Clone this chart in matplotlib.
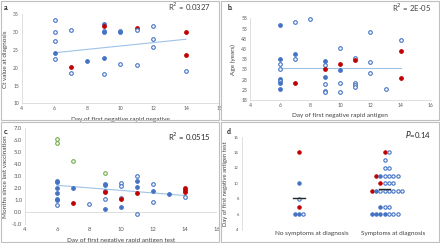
import numpy as np
import matplotlib
matplotlib.use("Agg")
import matplotlib.pyplot as plt
from matplotlib.patches import Rectangle

plt.rcParams['font.family'] = ['Lato', 'DejaVu Sans']

# colours
BLUE = '#4472C4'
RED = '#C00000'
GREEN = '#70AD47'
TREND = '#9DC3E6'
AXIS = '#D9D9D9'
TICK = '#595959'

# ---- panel a : Ct value vs day of first negative test
a_x = [6, 6, 6, 6, 6, 7, 7, 7, 8, 9, 9, 9, 9, 9, 9, 10, 10, 10, 11, 11, 11, 12, 12, 12, 14, 14, 14]
a_y = [33.5, 29.9, 27.5, 24.2, 22.5, 30.5, 20.2, 18.6, 21.9, 32.2, 31.8, 30.3, 29.9, 22.6, 18.2,
       30.4, 29.9, 20.9, 31.1, 30.5, 20.7, 31.6, 28.0, 25.7, 30.1, 23.6, 19.1]
a_k = ['o', 'o', 'o', 'f', 'o', 'o', 'r', 'o', 'f', 'f', 'r', 'o', 'f', 'f', 'o',
       'o', 'f', 'o', 'r', 'o', 'o', 'o', 'o', 'o', 'r', 'r', 'o']
a_trend_x = [6, 14]
a_trend_y = [24.2, 28.0]

# ---- panel b : age
b_x = [6, 6, 6, 6, 6, 6, 6, 6, 7, 7, 7, 7, 8, 9, 9, 9, 9, 9, 9, 9,
       10, 10, 10, 10, 10, 11, 11, 11, 11, 11, 12, 12, 12, 13, 14, 14, 14]
b_y = [54.6, 37.9, 35.5, 33.0, 28.3, 27.3, 26.2, 23.6, 56.4, 40.4, 38.3, 26.2, 57.5,
       37.3, 35.0, 33.2, 29.4, 25.7, 22.6, 21.9, 43.7, 35.8, 32.9, 26.2, 22.1,
       38.4, 37.4, 26.2, 25.4, 24.2, 51.2, 36.8, 31.1, 23.4, 47.6, 42.0, 28.6]
b_k = ['f', 'f', 'o', 'o', 'f', 'o', 'f', 'f', 'o', 'f', 'o', 'r', 'o',
       'f', 'o', 'r', 'f', 'o', 'o', 'o', 'o', 'r', 'f', 'o', 'o',
       'o', 'r', 'o', 'o', 'o', 'o', 'o', 'o', 'o', 'o', 'r', 'r']
b_trend_x = [6, 14]
b_trend_y = [33.5, 33.5]

# ---- panel c : months since last vaccination
c_x = [6, 6, 6, 6, 6, 6, 6, 6, 6, 7, 7, 7, 8, 9, 9, 9, 9, 9, 9, 9,
       10, 10, 10, 10, 10, 11, 11, 11, 11, 11, 12, 12, 12, 13, 14, 14, 14, 14]
c_y = [6.1, 5.8, 2.6, 2.5, 2.0, 1.65, 1.1, 1.0, 0.65, 4.25, 2.0, 0.75, 0.7,
       3.3, 2.4, 2.3, 1.8, 1.7, 1.1, 0.3, 2.45, 2.2, 1.2, 1.15, 0.45,
       3.05, 2.6, 2.15, 1.65, -0.1, 2.35, 1.8, 0.85, 1.55, 2.0, 1.85, 1.7, 1.3]
c_k = ['g', 'g', 'f', 'f', 'f', 'f', 'f', 'f', 'o', 'g', 'f', 'r', 'o',
       'g', 'f', 'f', 'o', 'r', 'o', 'f', 'o', 'o', 'o', 'r', 'f',
       'o', 'f', 'f', 'r', 'o', 'o', 'f', 'o', 'f', 'r', 'r', 'r', 'o']
c_trend_x = [6, 14]
c_trend_y = [2.25, 1.4]

# ---- panel d : day of first negative test by symptoms
d_groups = ['No symptoms at diagnosis', 'Symptoms at diagnosis']
d_no_y = [14, 10, 8, 7, 6, 6, 6]
d_no_k = ['r', 'f', 'o', 'r', 'f', 'f', 'o']
d_sym_y = [14, 14, 13, 12, 12,
           11, 11, 11, 11, 11, 11,
           10, 10, 10, 10,
           9, 9, 9, 9, 9, 9, 9, 9,
           7, 7, 7,
           6, 6, 6, 6, 6, 6, 6]
d_sym_k = ['r', 'o', 'o', 'o', 'o',
           'r', 'f', 'o', 'o', 'o', 'o',
           'r', 'o', 'o', 'o',
           'r', 'f', 'o', 'o', 'o', 'o', 'o', 'o',
           'f', 'o', 'o',
           'f', 'f', 'f', 'f', 'o', 'o', 'o']

STYLE = {
    'o': dict(mfc='white', mec=BLUE),
    'f': dict(mfc=BLUE, mec=BLUE),
    'r': dict(mfc=RED, mec=RED),
    'g': dict(mfc='white', mec=GREEN),
}


def draw_points(ax, xs, ys, ks, ms=2.6):
    for x, y, k in zip(xs, ys, ks):
        ax.plot(x, y, 'o', ms=ms, mew=0.8, clip_on=False, **STYLE[k])


def style_axes(ax):
    for s in ['top', 'right']:
        ax.spines[s].set_visible(False)
    for s in ['left', 'bottom']:
        ax.spines[s].set_color(AXIS)
        ax.spines[s].set_linewidth(0.6)
    ax.tick_params(length=0, labelsize=3.6, labelcolor=TICK, pad=2)
    ax.set_facecolor('none')


fig = plt.figure(figsize=(4.4, 2.43), dpi=100)
W, H = 440, 243


def add_axes(x0, y0, x1, y1):
    # pixel box -> figure fraction
    return fig.add_axes([x0 / W, 1 - y1 / H, (x1 - x0) / W, (y1 - y0) / H])


# panel frames
for (x0, y0, x1, y1) in [(1, 1, 219, 120), (221, 1, 439, 120), (1, 122, 219, 242), (221, 122, 439, 242)]:
    fig.patches.append(Rectangle((x0 / W, 1 - y1 / H), (x1 - x0) / W, (y1 - y0) / H,
                                 transform=fig.transFigure, fill=False, ec='#BFBFBF', lw=0.8))

# ---- a
ax = add_axes(21.7, 14.3, 219, 103.3)
style_axes(ax)
ax.plot(a_trend_x, a_trend_y, color=TREND, lw=0.8)
draw_points(ax, a_x, a_y, a_k)
ax.set_xlim(4, 16)
ax.set_ylim(10, 35)
ax.set_xticks(range(4, 17, 2))
ax.set_yticks(range(10, 36, 5))
ax.set_xlabel('Day of first negative rapid negative', fontsize=4.6, color='#404040', labelpad=4)
ax.set_ylabel('Ct value at diagnosis', fontsize=4.6, color='#404040', labelpad=4)
fig.text(4 / W, 1 - 7 / H, 'a.', fontsize=5, fontweight='bold', va='center', color='#262626')
fig.text(211 / W, 1 - 7 / H, 'R$^2$ = 0.0327', fontsize=5.6, ha='right', va='center', color='#404040')

# ---- b
ax = add_axes(250, 18.3, 430.7, 100)
style_axes(ax)
ax.plot(b_trend_x, b_trend_y, color=TREND, lw=0.8)
draw_points(ax, b_x, b_y, b_k)
ax.set_xlim(4, 16)
ax.set_ylim(18, 58)
ax.set_xticks(range(4, 17, 2))
ax.set_yticks(range(18, 59, 5))
ax.set_xlabel('Day of first negative rapid antigen', fontsize=4.6, color='#404040', labelpad=4)
ax.set_ylabel('Age (years)', fontsize=4.6, color='#404040', labelpad=4)
fig.text(228 / W, 1 - 8 / H, 'b.', fontsize=5, fontweight='bold', va='center', color='#262626')
fig.text(431 / W, 1 - 8 / H, 'R$^2$ = 2E-05', fontsize=5.6, ha='right', va='center', color='#404040')

# ---- c
ax = add_axes(25, 128.3, 217, 224.3)
style_axes(ax)
ax.spines['bottom'].set_visible(False)
ax.axhline(0, color=AXIS, lw=0.6)
ax.plot(c_trend_x, c_trend_y, color=TREND, lw=0.8)
draw_points(ax, c_x, c_y, c_k)
ax.set_xlim(4, 16)
ax.set_ylim(-1, 7)
ax.set_xticks(range(4, 17, 2))
ax.set_yticks(np.arange(-1, 7.1, 1))
ax.set_yticklabels([f'{v:.1f}' for v in np.arange(-1, 7.1, 1)])
ax.tick_params(labelsize=4.2)
ax.set_xlabel('Day of first negative rapid antigen test', fontsize=4.6, color='#404040', labelpad=4)
ax.set_ylabel('Months since last vaccination', fontsize=4.6, color='#404040', labelpad=3)
fig.text(4 / W, 1 - 131 / H, 'c.', fontsize=5, fontweight='bold', va='center', color='#262626')
fig.text(211 / W, 1 - 137 / H, 'R$^2$ = 0.0515', fontsize=5.6, ha='right', va='center', color='#262626')

# ---- d
ax = add_axes(241.7, 137, 430, 229.7)
style_axes(ax)
ax.spines['bottom'].set_visible(False)
spacing = 0.0507
for gi, (vals, kinds) in enumerate([(d_no_y, d_no_k), (d_sym_y, d_sym_k)]):
    xc = gi + 1
    xs = []
    for v in sorted(set(vals), reverse=True):
        idx = [i for i, y in enumerate(vals) if y == v]
        n = len(idx)
        for j, i in enumerate(idx):
            xs.append((i, xc + (j - (n - 1) // 2) * spacing))
    xs = [x for _, x in sorted(xs)]
    draw_points(ax, xs, vals, kinds, ms=2.4)
    m = np.mean(vals)
    ax.plot([xc - 0.065, xc + 0.065], [m, m], color='#262626', lw=1.0)
ax.set_xlim(0.33, 2.53)
ax.set_ylim(4, 16)
ax.set_yticks(range(4, 17, 2))
ax.tick_params(axis='y', labelsize=3.0)
ax.set_xticks([1.15, 2.1])
ax.set_xticklabels(d_groups, fontsize=4.6, color='#404040')
ax.tick_params(axis='x', pad=1)
ax.set_ylabel('Day of first negative antigen test', fontsize=4.2, color='#404040', labelpad=4)
fig.text(227 / W, 1 - 132 / H, 'd.', fontsize=5, fontweight='bold', va='center', color='#262626')
fig.text(431 / W, 1 - 134 / H, '$P$=0.14', fontsize=5.6, ha='right', va='center', color='#262626')

fig.savefig('out.png', dpi=100)
